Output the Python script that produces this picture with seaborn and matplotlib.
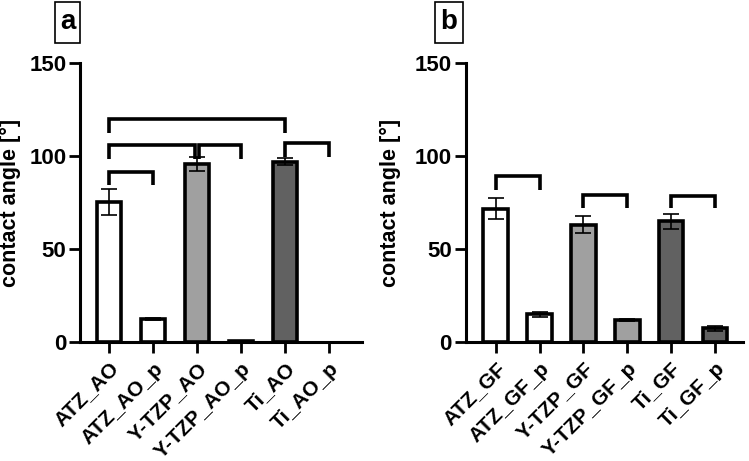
import numpy as np
import pandas as pd
import matplotlib
matplotlib.use("Agg")
import matplotlib.pyplot as plt
from matplotlib.patches import Rectangle
import seaborn as sns

sns.set_style("ticks")
plt.rcParams['font.family'] = ['Liberation Sans', 'DejaVu Sans']
plt.rcParams['font.weight'] = 'bold'
for k in ['text.color', 'axes.labelcolor', 'xtick.color', 'ytick.color']:
    plt.rcParams[k] = 'black'

# panel a
labels_a = ["ATZ_AO", "ATZ_AO_p", "Y-TZP_AO", "Y-TZP_AO_p", "Ti_AO", "Ti_AO_p"]
means_a = [75.3, 12.5, 95.8, 0.5, 97.0, np.nan]
sd_a = [7.0, 0.6, 3.6, 0.0, 1.8, 0.0]
# brackets: (left bar, right bar, height, drop)
brackets_a = [(0, 1, 91.5, 7.0), (0, 1.95, 106.0, 7.5), (2.05, 3, 106.0, 7.5),
              (0, 4, 120.2, 8.0), (4, 5, 107.0, 7.5)]

# panel b
labels_b = ["ATZ_GF", "ATZ_GF_p", "Y-TZP_GF", "Y-TZP_GF_p", "Ti_GF", "Ti_GF_p"]
means_b = [71.8, 14.9, 63.2, 11.9, 65.0, 7.4]
sd_b = [5.8, 1.5, 4.6, 0.4, 4.0, 1.4]
brackets_b = [(0, 1, 89.2, 7.5), (2, 3, 79.3, 7.2), (4, 5, 78.4, 6.5)]

colors = ["#ffffff", "#ffffff", "#a0a0a0", "#a0a0a0", "#616161", "#616161"]

fig = plt.figure(figsize=(7.49, 4.61), dpi=100)
ax_a = fig.add_axes([0.107, 0.258, 0.376, 0.605])
ax_b = fig.add_axes([0.622, 0.258, 0.370, 0.605])


def panel(ax, labels, means, sd, brackets, xlim, ylab_x):
    df = pd.DataFrame({"sample": labels, "angle": means})
    sns.barplot(data=df, x="sample", y="angle", hue="sample", order=labels,
                hue_order=labels, palette=colors,
                edgecolor="black", linewidth=2.6, width=0.56, errorbar=None,
                legend=False, ax=ax)
    ax.errorbar(np.arange(len(labels)), means, yerr=sd, fmt="none",
                ecolor="black", elinewidth=1.2, capsize=6, capthick=1.2)
    for x0, x1, h, d in brackets:
        ax.plot([x0, x0, x1, x1], [h - d, h, h, h - d], color="black",
                lw=2.6, solid_capstyle="butt", solid_joinstyle="miter")
    ax.set_ylim(0, 150)
    ax.set_xlim(*xlim)
    ax.set_yticks([0, 50, 100, 150])
    ax.set_xlabel("")
    ax.set_ylabel("contact angle [°]", fontsize=15.5, fontweight="bold")
    ax.yaxis.set_label_coords(ylab_x, 0.5)
    ax.set_xticks(range(len(labels)))
    ax.set_xticklabels(labels, rotation=45, ha="right", rotation_mode="anchor",
                       fontsize=15, fontweight="bold")
    for t in ax.get_yticklabels():
        t.set_fontsize(16)
        t.set_fontweight("bold")
    ax.tick_params(axis="both", width=2, length=8, color="black")
    ax.tick_params(axis="y", pad=2)
    ax.tick_params(axis="x", pad=4)
    for s in ["left", "bottom"]:
        ax.spines[s].set_linewidth(2.2)
        ax.spines[s].set_color("black")
    sns.despine(ax=ax)


panel(ax_a, labels_a, means_a, sd_a, brackets_a, (-0.66, 5.75), -0.21)
panel(ax_b, labels_b, means_b, sd_b, brackets_b, (-0.68, 5.64), -0.235)

for x0, x1, lab in [(55, 80, "a"), (435, 463, "b")]:
    W, H = 749, 461
    fig.patches.append(Rectangle((x0 / W, 1 - 43 / H), (x1 - x0) / W, 41 / H,
                                 transform=fig.transFigure, facecolor="white",
                                 edgecolor="black", lw=1.2))
    fig.text((x0 + x1) / 2 / W, 1 - 22 / H, lab, fontsize=20, fontweight="bold",
             ha="center", va="center")

fig.savefig("out.png", dpi=100)
